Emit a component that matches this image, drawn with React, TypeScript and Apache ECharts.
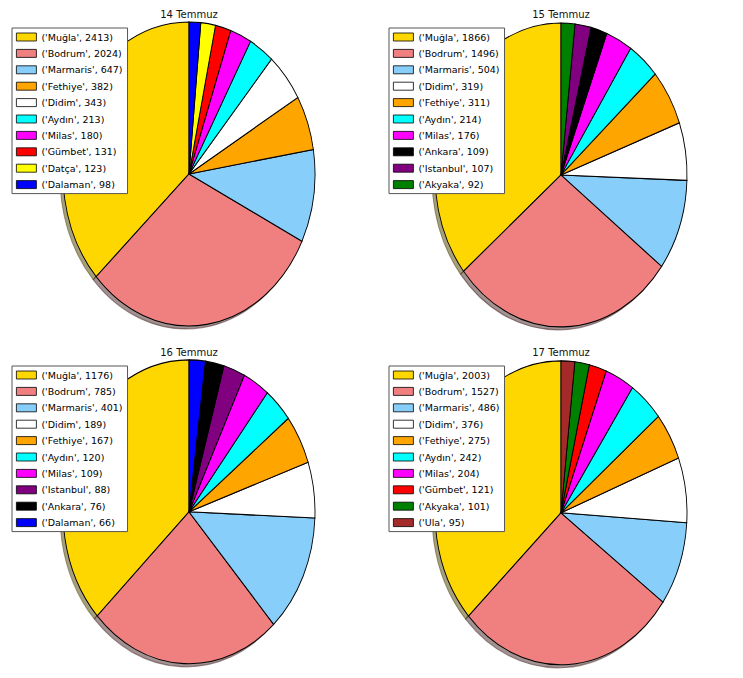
import React, { useEffect, useRef } from 'react';
import * as echarts from 'echarts';

const dayTitles = ['14 Temmuz', '15 Temmuz', '16 Temmuz', '17 Temmuz'];

const cities14 = ['Muğla', 'Bodrum', 'Marmaris', 'Fethiye', 'Didim', 'Aydın', 'Milas', 'Gümbet', 'Datça', 'Dalaman'];
const values14 = [2413, 2024, 647, 382, 343, 213, 180, 131, 123, 98];

const cities15 = ['Muğla', 'Bodrum', 'Marmaris', 'Didim', 'Fethiye', 'Aydın', 'Milas', 'Ankara', 'Istanbul', 'Akyaka'];
const values15 = [1866, 1496, 504, 319, 311, 214, 176, 109, 107, 92];

const cities16 = ['Muğla', 'Bodrum', 'Marmaris', 'Didim', 'Fethiye', 'Aydın', 'Milas', 'Istanbul', 'Ankara', 'Dalaman'];
const values16 = [1176, 785, 401, 189, 167, 120, 109, 88, 76, 66];

const cities17 = ['Muğla', 'Bodrum', 'Marmaris', 'Didim', 'Fethiye', 'Aydın', 'Milas', 'Gümbet', 'Akyaka', 'Ula'];
const values17 = [2003, 1527, 486, 376, 275, 242, 204, 121, 101, 95];

const cityColors: Record<string, string> = {
  'Muğla': '#FFD700',
  'Bodrum': '#F08080',
  'Marmaris': '#87CEFA',
  'Fethiye': '#FFA500',
  'Didim': '#FFFFFF',
  'Aydın': '#00FFFF',
  'Milas': '#FF00FF',
  'Gümbet': '#FF0000',
  'Datça': '#FFFF00',
  'Dalaman': '#0000FF',
  'Ankara': '#000000',
  'Istanbul': '#800080',
  'Akyaka': '#008000',
  'Ula': '#A52A2A',
};

const days = [
  { cities: cities14, values: values14 },
  { cities: cities15, values: values15 },
  { cities: cities16, values: values16 },
  { cities: cities17, values: values17 },
];

// layout
const centers = [[189, 174], [561, 175], [189, 512], [561, 513]];
const RX = 126;
const RY = 152;
const legendPos = [[12, 28], [389, 28], [12, 366], [389, 366]];
const titleTop = [9, 9, 347, 347];

function shadowColor(hex: string) {
  const r = parseInt(hex.slice(1, 3), 16);
  const g = parseInt(hex.slice(3, 5), 16);
  const b = parseInt(hex.slice(5, 7), 16);
  return `rgba(${Math.round(r * 0.3)},${Math.round(g * 0.3)},${Math.round(b * 0.3)},0.5)`;
}

function labelOf(city: string, v: number) {
  return `('${city}', ${v})`;
}

function buildSeries() {
  const series: any[] = [];
  days.forEach((day, k) => {
    const total = day.values.reduce((a, b) => a + b, 0);
    const [cx, cy] = centers[k];
    let cum = 0;
    day.cities.forEach((city, i) => {
      const start = cum;
      cum += day.values[i];
      const end = cum;
      const color = cityColors[city];
      series.push({
        type: 'custom',
        name: labelOf(city, day.values[i]),
        coordinateSystem: 'none',
        silent: true,
        itemStyle: { color, borderColor: '#000', borderWidth: 1 },
        data: [[day.values[i]]],
        renderItem: () => {
          const a0 = -Math.PI / 2 - (end / total) * Math.PI * 2;
          const a1 = -Math.PI / 2 - (start / total) * Math.PI * 2;
          const shape = { cx, cy, r0: 0, r: RX, startAngle: a0, endAngle: a1, clockwise: true };
          const sc = shadowColor(color);
          return {
            type: 'group',
            children: [
              {
                type: 'sector',
                shape,
                x: -3,
                y: 3,
                scaleY: RY / RX,
                originX: cx,
                originY: cy,
                z2: 0,
                style: { fill: sc, stroke: sc, lineWidth: 1, strokeNoScale: true },
              },
              {
                type: 'sector',
                shape,
                scaleY: RY / RX,
                originX: cx,
                originY: cy,
                z2: 10,
                style: { fill: color, stroke: '#000', lineWidth: 0.9, strokeNoScale: true },
              },
            ],
          };
        },
      });
    });
  });
  return series;
}

export default function App() {
  const ref = useRef<HTMLDivElement>(null);
  useEffect(() => {
    if (!ref.current) return;
    const chart = echarts.init(ref.current, undefined, { renderer: 'svg' });
    const option: any = {
      animation: false,
      backgroundColor: '#fff',
      title: dayTitles.map((t, k) => ({
        text: t,
        left: centers[k][0],
        top: titleTop[k],
        textAlign: 'center',
        padding: 0,
        textStyle: { fontSize: 10, fontWeight: 'normal', color: '#111', fontFamily: 'DejaVu Sans' },
      })),
      legend: days.map((day, k) => ({
        data: day.cities.map((c, i) => labelOf(c, day.values[i])),
        orient: 'vertical',
        left: legendPos[k][0],
        top: legendPos[k][1],
        icon: 'rect',
        itemWidth: 20,
        itemHeight: 8,
        itemGap: 4.4,
        padding: [3, 5, 3, 4],
        backgroundColor: '#fff',
        borderColor: '#555',
        borderWidth: 1,
        borderRadius: 0,
        selectedMode: false,
        textStyle: { fontSize: 9.5, fontFamily: 'DejaVu Sans', color: '#000', lineHeight: 12 },
        itemStyle: { borderColor: '#000', borderWidth: 0.8 },
      })),
      series: buildSeries(),
    };
    chart.setOption(option);
    return () => chart.dispose();
  }, []);
  return (
    <div
      ref={ref}
      style={{ position: 'absolute', left: 0, top: 0, width: 743, height: 678 }}
    />
  );
}
